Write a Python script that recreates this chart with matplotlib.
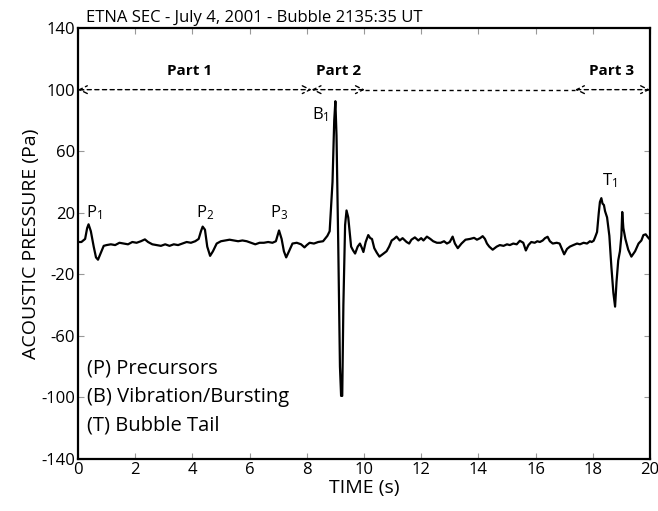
import matplotlib.pyplot as plt

plt.rcParams['font.family'] = ['Open Sans', 'DejaVu Sans']
plt.rcParams['mathtext.default'] = 'regular'
plt.rcParams['axes.unicode_minus'] = False

# waveform (time in s, pressure in Pa)
time_s = [0.0, 0.12, 0.25, 0.32, 0.37, 0.45, 0.55, 0.63, 0.70, 0.80, 0.90, 1.0, 1.15, 1.3, 1.45,
          1.6, 1.75, 1.9, 2.05, 2.2, 2.34, 2.45, 2.6, 2.75, 2.9, 3.05, 3.2, 3.35, 3.5, 3.65,
          3.8, 3.95, 4.1, 4.22, 4.3, 4.36, 4.44, 4.52, 4.62, 4.72, 4.85, 5.0, 5.15, 5.3,
          5.45, 5.6, 5.75, 5.9, 6.05, 6.2, 6.35, 6.5, 6.65, 6.8, 6.92, 7.03, 7.12, 7.2,
          7.28, 7.38, 7.5, 7.65, 7.8, 7.92, 8.0, 8.1, 8.25, 8.4, 8.57, 8.72, 8.8, 8.9,
          8.96, 9.0, 9.04, 9.1, 9.16, 9.2, 9.24, 9.28, 9.34, 9.39, 9.45, 9.55, 9.62,
          9.69, 9.78, 9.86, 9.93, 9.98, 10.06, 10.15, 10.22, 10.28, 10.36, 10.45, 10.54,
          10.65, 10.79, 10.88, 10.97, 11.05, 11.14, 11.25, 11.35, 11.49, 11.58, 11.66,
          11.78, 11.9, 12.0, 12.08, 12.2, 12.32, 12.42, 12.55, 12.68, 12.8, 12.9, 13.0,
          13.1, 13.18, 13.28, 13.41, 13.55, 13.71, 13.85, 13.95, 14.06, 14.15, 14.23,
          14.3, 14.38, 14.5, 14.64, 14.75, 14.88, 15.0, 15.1, 15.22, 15.34, 15.45, 15.57,
          15.66, 15.75, 15.85, 15.97, 16.06, 16.15, 16.25, 16.33, 16.42, 16.5, 16.6,
          16.74, 16.84, 16.91, 17.0, 17.1, 17.2, 17.32, 17.45, 17.55, 17.68, 17.8, 17.9,
          17.96, 18.03, 18.08, 18.15, 18.21, 18.25, 18.3, 18.34, 18.39, 18.43, 18.5,
          18.58, 18.65, 18.72, 18.78, 18.83, 18.89, 18.95, 19.0, 19.03, 19.07, 19.14,
          19.24, 19.35, 19.48, 19.6, 19.7, 19.77, 19.85, 19.93, 20.0]
pressure_pa = [1, 1, 3, 10, 12.5, 8, -2, -9, -10.5, -6, -1.5, -1, -0.5, -1, 0.5, 0, -0.5,
               1, 0.5, 1.5, 2.7, 1, -0.5, -1, -1.5, -0.5, -1.5, -0.5, -1, 0, 1, 0.5, 1.5,
               3, 8, 11, 9, -2, -8, -5, 0, 1.5, 2, 2.5, 2, 1.5, 2, 1.5, 0.5, -0.5, 0.5,
               0.5, 1, 0.5, 1.5, 8.5, 3, -5, -9, -5, 0, 0.5, -0.5, -2.5, -1, 0.5, 0, 1,
               1.5, 5, 8, 40, 80, 92.5, 70, 0, -80, -99, -99, -40, 12, 21.5, 17, -2,
               -4.5, -6.5, -2, 0, -3, -5.5, 1, 5.5, 3.5, 3, -3, -6, -8.5, -7, -5, -2,
               2, 3, 4.5, 2, 3.5, 1, 0, 2.5, 4, 2, 3.5, 2, 4.5, 3, 1.5, 0.5, 0.5, 1.5,
               0, 1, 4.5, 0, -3, 0, 2.5, 3, 3.7, 2.5, 3.5, 4.8, 3, 0, -2, -4, -2, -1,
               -1.5, -0.5, -1, 0, -0.5, 1.8, 0.5, -4.5, -1, 1, 0.5, 1.5, 1, 2, 3.5, 4.4,
               1.5, 0, 0.5, 0, -3, -7, -3.5, -2, -1, 0, -0.5, 0.5, 0, 1.5, 1, 1.8, 4,
               7.5, 20, 27, 29.5, 26, 25, 21, 17, 5, -15, -32, -41, -25, -11, -5, 5,
               20.5, 10, 3, -4, -8.5, -5, 0, 2, 5.5, 6, 4, 2.6]

ticks_x = [0, 2, 4, 6, 8, 10, 12, 14, 16, 18, 20]
ticks_y = [140, 100, 60, 20, -20, -60, -100, -140]

part_edges = [0, 8.17, 10.03, 17.38, 20]
part_names = ['Part 1', 'Part 2', 'Part 3']
part_label_x = [3.9, 9.1, 18.65]

peak_names = ['P$_1$', 'P$_2$', 'P$_3$', 'B$_1$', 'T$_1$']
peak_label_x = [0.56, 4.44, 7.03, 8.48, 18.6]
peak_label_y = [20, 20, 20, 84, 41]

legend_lines = ['(P) Precursors', '(B) Vibration/Bursting', '(T) Bubble Tail']
legend_y = [-81, -100, -118.5]

fig = plt.figure(figsize=(6.58, 5.11), dpi=100)
ax = fig.add_axes([0.1185, 0.1018, 0.8693, 0.8432])

ax.plot(time_s, pressure_pa, color='black', linewidth=1.6)

# dashed double-arrow bars for the three parts
arrow_kw = dict(arrowstyle='<->', linestyle=(0, (3, 2.5)), color='black', lw=1.0,
                shrinkA=0, shrinkB=0, mutation_scale=14)
ax.annotate('', xy=(part_edges[1], 100), xytext=(part_edges[0], 100), arrowprops=arrow_kw)
ax.annotate('', xy=(part_edges[2], 100), xytext=(part_edges[1], 100), arrowprops=arrow_kw)
ax.annotate('', xy=(part_edges[4], 100), xytext=(part_edges[3], 100), arrowprops=arrow_kw)
ax.plot([part_edges[2], part_edges[3]], [100, 100], color='black', lw=1.0,
        linestyle=(0, (3, 2.5)))
for name, x in zip(part_names, part_label_x):
    ax.text(x, 112, name, ha='center', va='center', fontsize=11, fontweight='bold')

for name, x, y in zip(peak_names, peak_label_x, peak_label_y):
    ax.text(x, y, name, ha='center', va='center', fontsize=12)

for line, y in zip(legend_lines, legend_y):
    ax.text(0.3, y, line, ha='left', va='center', fontsize=14.5)

ax.set_xlim(0, 20)
ax.set_ylim(-140, 140)
ax.set_xticks(ticks_x)
ax.set_yticks(ticks_y)
ax.tick_params(direction='in', length=4, width=0.8, color='#999999', labelsize=12,
               top=True, right=True, pad=2)
for s in ax.spines.values():
    s.set_linewidth(1.6)

ax.set_xlabel('TIME (s)', fontsize=14, labelpad=1)
ax.set_ylabel('ACOUSTIC PRESSURE (Pa)', fontsize=14, labelpad=1)
ax.text(0.014, 1.006, 'ETNA SEC - July 4, 2001 - Bubble 2135:35 UT', transform=ax.transAxes,
        ha='left', va='bottom', fontsize=12)

fig.savefig('out.png', dpi=100)
